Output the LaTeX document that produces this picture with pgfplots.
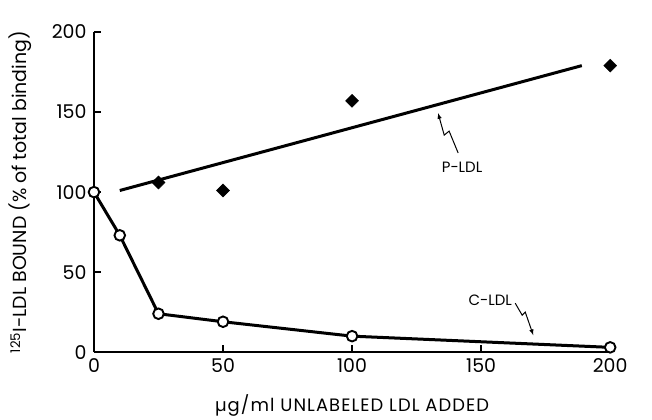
\documentclass[border=0pt]{standalone}
\usepackage{fontspec}
\setmainfont{Poppins}
\usepackage{pgfplots}
\pgfplotsset{compat=1.18}
\begin{document}
\begin{tikzpicture}
\begin{axis}[
  scale only axis, width=516bp, height=320bp,
  xmin=0, xmax=200, ymin=0, ymax=200,
  axis x line*=bottom, axis y line*=left,
  axis line style={line width=2bp, -},
  xtick={0,50,100,150,200}, ytick={0,50,100,150,200},
  tick align=inside, major tick length=7bp,
  tick style={line width=1.4bp, black},
  every tick label/.append style={font=\fontsize{19}{19}\selectfont},
  xticklabel style={yshift=-3bp},
  yticklabel style={xshift=-4bp},
  /pgf/number format/assume math mode=true,
  clip=false,
  xlabel={\addfontfeature{LetterSpace=6}µg/ml UNLABELED LDL ADDED},
  ylabel={\textsuperscript{125}I-LDL BOUND (\% of total binding)},
  xlabel style={font=\fontsize{18}{20}\selectfont, at={(axis description cs:0.5,-0.166)}, anchor=center},
  ylabel style={font=\fontsize{19}{21}\selectfont, at={(axis description cs:-0.143,0.5)}, anchor=center},
]
% fixed bounding box
\path (rel axis cs:-0.182,-0.203) rectangle (rel axis cs:1.081,1.1);
% C-LDL
\addplot[black, line width=3bp, mark=*, mark size=5.3bp,
  mark options={fill=white, draw=black, line width=1.9bp}]
  coordinates {(0,100) (10,73) (25,24) (50,19) (100,10) (200,3)};
% P-LDL points
\addplot[only marks, mark=square*, mark size=4.6bp, black,
  mark options={rotate=45}]
  coordinates {(25,106) (50,101) (100,157) (200,179)};
% P-LDL fitted line
\addplot[black, line width=3bp, no marks]
  coordinates {(10,101) (189,179)};
% annotations
\draw[line width=1bp, -{latex}] (axis cs:141.1,124.4) -- (axis cs:137.6,138.1) -- (axis cs:135.7,135.6) -- (axis cs:133.3,149.4);
\node[font=\fontsize{15}{15}\selectfont] at (axis cs:142.6,115.6) {P-LDL};
\draw[line width=1bp, -{latex}] (axis cs:163.2,30.6) -- (axis cs:165.9,23.1) -- (axis cs:167.1,25) -- (axis cs:170.2,10.6);
\node[font=\fontsize{15}{15}\selectfont] at (axis cs:153.5,32.5) {C-LDL};
\end{axis}
\end{tikzpicture}
\end{document}
